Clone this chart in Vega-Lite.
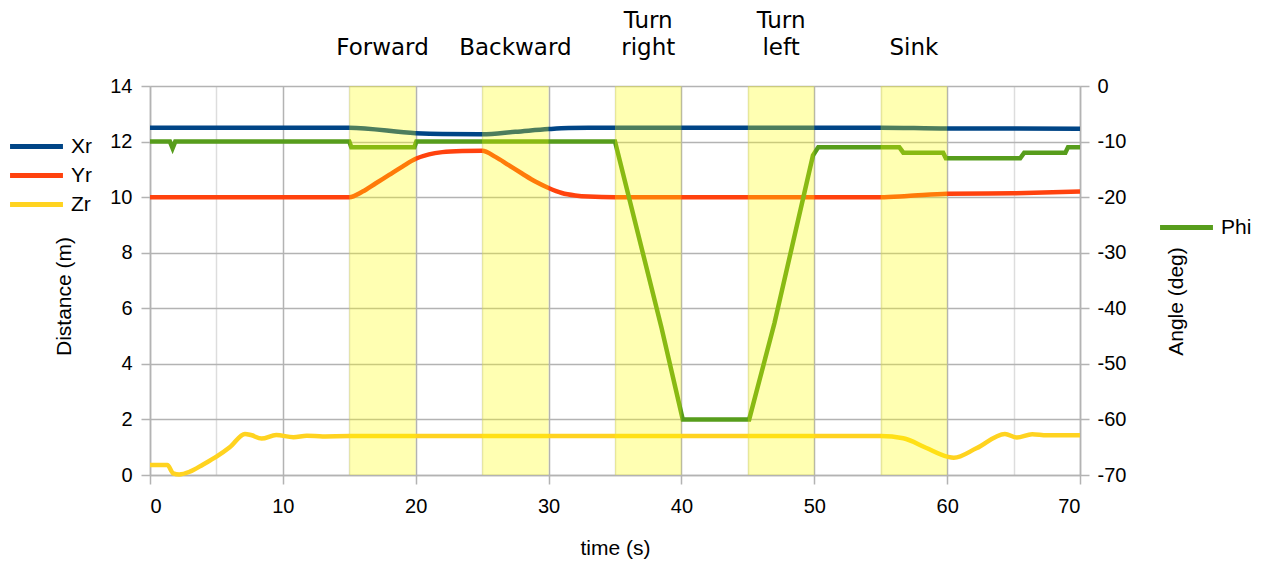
{
  "$schema": "https://vega.github.io/schema/vega-lite/v6.json",
  "width": 930,
  "height": 389,
  "autosize": {"type": "none"},
  "padding": {"left": 150, "top": 86, "right": 186, "bottom": 87},
  "background": "white",
  "config": {
    "view": {"stroke": null},
    "font": "Liberation Sans",
    "axis": {"labelFont": "Liberation Sans", "titleFont": "Liberation Sans", "labelColor": "black", "titleColor": "black", "titleFontWeight": "normal", "labelFontSize": 20, "titleFontSize": 21, "domainColor": "#b3b3b3", "tickColor": "#b3b3b3", "gridColor": "#b3b3b3", "domainWidth": 1.5, "tickWidth": 1.5, "gridWidth": 1.5, "tickSize": 9}
  },
  "datasets": {
    "dist": [
      {"t": 0, "series": "Xr", "v": 12.5}, {"t": 15, "series": "Xr", "v": 12.5}, {"t": 20, "series": "Xr", "v": 12.3}, {"t": 22, "series": "Xr", "v": 12.27}, {"t": 25, "series": "Xr", "v": 12.26}, {"t": 27.5, "series": "Xr", "v": 12.35}, {"t": 30, "series": "Xr", "v": 12.45}, {"t": 31.5, "series": "Xr", "v": 12.49}, {"t": 33, "series": "Xr", "v": 12.5}, {"t": 55, "series": "Xr", "v": 12.5}, {"t": 60, "series": "Xr", "v": 12.47}, {"t": 65, "series": "Xr", "v": 12.47}, {"t": 70, "series": "Xr", "v": 12.46},
      {"t": 0, "series": "Yr", "v": 10}, {"t": 15, "series": "Yr", "v": 10}, {"t": 16, "series": "Yr", "v": 10.2}, {"t": 17, "series": "Yr", "v": 10.5}, {"t": 18, "series": "Yr", "v": 10.8}, {"t": 19, "series": "Yr", "v": 11.1}, {"t": 20, "series": "Yr", "v": 11.38}, {"t": 21, "series": "Yr", "v": 11.54}, {"t": 22, "series": "Yr", "v": 11.62}, {"t": 23.5, "series": "Yr", "v": 11.66}, {"t": 25, "series": "Yr", "v": 11.67}, {"t": 26, "series": "Yr", "v": 11.45}, {"t": 27, "series": "Yr", "v": 11.15}, {"t": 28, "series": "Yr", "v": 10.85}, {"t": 29, "series": "Yr", "v": 10.56}, {"t": 30, "series": "Yr", "v": 10.33}, {"t": 31, "series": "Yr", "v": 10.15}, {"t": 32, "series": "Yr", "v": 10.06}, {"t": 33, "series": "Yr", "v": 10.02}, {"t": 35, "series": "Yr", "v": 10.0}, {"t": 55, "series": "Yr", "v": 10.0}, {"t": 57, "series": "Yr", "v": 10.04}, {"t": 60, "series": "Yr", "v": 10.12}, {"t": 65, "series": "Yr", "v": 10.14}, {"t": 70, "series": "Yr", "v": 10.2},
      {"t": 0, "series": "Zr", "v": 0.36}, {"t": 1.3, "series": "Zr", "v": 0.36}, {"t": 1.75, "series": "Zr", "v": 0.06}, {"t": 2.2, "series": "Zr", "v": 0.02}, {"t": 3, "series": "Zr", "v": 0.12}, {"t": 4, "series": "Zr", "v": 0.38}, {"t": 5, "series": "Zr", "v": 0.66}, {"t": 6, "series": "Zr", "v": 1.0}, {"t": 7.15, "series": "Zr", "v": 1.48}, {"t": 7.6, "series": "Zr", "v": 1.44}, {"t": 8.4, "series": "Zr", "v": 1.31}, {"t": 9.5, "series": "Zr", "v": 1.44}, {"t": 10.8, "series": "Zr", "v": 1.36}, {"t": 11.8, "series": "Zr", "v": 1.41}, {"t": 13, "series": "Zr", "v": 1.39}, {"t": 15, "series": "Zr", "v": 1.4}, {"t": 55, "series": "Zr", "v": 1.4}, {"t": 56.7, "series": "Zr", "v": 1.32}, {"t": 58.4, "series": "Zr", "v": 0.98}, {"t": 60, "series": "Zr", "v": 0.66}, {"t": 60.5, "series": "Zr", "v": 0.62}, {"t": 62.2, "series": "Zr", "v": 0.96}, {"t": 64.35, "series": "Zr", "v": 1.48}, {"t": 65.25, "series": "Zr", "v": 1.35}, {"t": 66.4, "series": "Zr", "v": 1.47}, {"t": 67.5, "series": "Zr", "v": 1.43}, {"t": 70, "series": "Zr", "v": 1.43}
    ],
    "phi": [
      {"t": 0, "series": "Phi", "v": -10}, {"t": 1.5, "series": "Phi", "v": -10}, {"t": 1.7, "series": "Phi", "v": -11.2}, {"t": 1.9, "series": "Phi", "v": -10}, {"t": 15, "series": "Phi", "v": -10}, {"t": 15.15, "series": "Phi", "v": -11}, {"t": 19.9, "series": "Phi", "v": -11}, {"t": 20.05, "series": "Phi", "v": -10}, {"t": 35, "series": "Phi", "v": -10}, {"t": 38.5, "series": "Phi", "v": -43.5}, {"t": 40.1, "series": "Phi", "v": -60}, {"t": 45.1, "series": "Phi", "v": -60}, {"t": 47.0, "series": "Phi", "v": -42.7}, {"t": 49.9, "series": "Phi", "v": -12.5}, {"t": 50.3, "series": "Phi", "v": -11}, {"t": 56.4, "series": "Phi", "v": -11}, {"t": 56.7, "series": "Phi", "v": -12}, {"t": 59.7, "series": "Phi", "v": -12}, {"t": 59.9, "series": "Phi", "v": -13}, {"t": 65.5, "series": "Phi", "v": -13}, {"t": 65.8, "series": "Phi", "v": -12}, {"t": 68.9, "series": "Phi", "v": -12}, {"t": 69.1, "series": "Phi", "v": -11}, {"t": 70, "series": "Phi", "v": -11}
    ],
    "bands": [
      {"start": 15, "end": 20, "mid": 17.5, "line1": "", "line2": "Forward"},
      {"start": 25, "end": 30, "mid": 27.5, "line1": "", "line2": "Backward"},
      {"start": 35, "end": 40, "mid": 37.5, "line1": "Turn", "line2": "right"},
      {"start": 45, "end": 50, "mid": 47.5, "line1": "Turn", "line2": "left"},
      {"start": 55, "end": 60, "mid": 57.5, "line1": "", "line2": "Sink"}
    ]
  },
  "layer": [
    {
      "data": {"name": "dist"},
      "mark": {"type": "line", "strokeWidth": 4.5, "interpolate": "monotone"},
      "encoding": {
        "x": {"field": "t", "type": "quantitative", "scale": {"domain": [0, 70], "nice": false},
          "axis": {"title": "time (s)", "values": [0,5,10,15,20,25,30,35,40,45,50,55,60,65,70], "labelExpr": "datum.value % 10 === 0 ? datum.label : ''", "tickOpacity": {"condition": {"test": "datum.value % 10 === 0", "value": 1}, "value": 0}, "gridColor": {"condition": {"test": "datum.value % 10 === 0", "value": "#b3b3b3"}, "value": "#dddddd"}, "labelPadding": 12, "titlePadding": 21}},
        "y": {"field": "v", "type": "quantitative", "scale": {"domain": [0, 14], "nice": false},
          "axis": {"title": "Distance (m)", "values": [0,2,4,6,8,10,12,14], "labelPadding": 9, "titlePadding": 35, "titleY": 210}},
        "color": {"field": "series", "type": "nominal", "scale": {"domain": ["Xr", "Yr", "Zr"], "range": ["#004586", "#ff420e", "#ffd320"]},
          "legend": {"orient": "none", "legendX": -124, "legendY": 50, "title": null, "symbolType": "M-5,0H5", "symbolSize": 112, "symbolStrokeWidth": 5, "labelOffset": 24, "labelFontSize": 21, "labelFont": "Liberation Sans", "labelColor": "black", "rowPadding": 7}}
      }
    },
    {
      "data": {"name": "phi"},
      "mark": {"type": "line", "strokeWidth": 4.5},
      "encoding": {
        "x": {"field": "t", "type": "quantitative"},
        "y": {"field": "v", "type": "quantitative", "scale": {"domain": [-70, 0], "nice": false},
          "axis": {"orient": "right", "title": "Angle (deg)", "values": [-70,-60,-50,-40,-30,-20,-10,0], "labelExpr": "'' + datum.value", "grid": false, "labelPadding": 8, "titlePadding": 40, "titleAngle": 270, "titleBaseline": "top", "titleY": 215}},
        "color": {"field": "series", "type": "nominal", "scale": {"domain": ["Phi"], "range": ["#579d1c"]},
          "legend": {"orient": "none", "legendX": 1026, "legendY": 131, "title": null, "symbolType": "M-5,0H5", "symbolSize": 112, "symbolStrokeWidth": 5, "labelOffset": 24, "labelFontSize": 21, "labelFont": "Liberation Sans", "labelColor": "black"}}
      }
    },
    {
      "data": {"name": "bands"},
      "mark": {"type": "rect", "color": "#ffff00", "opacity": 0.3},
      "encoding": {
        "x": {"field": "start", "type": "quantitative"},
        "x2": {"field": "end"}
      }
    },
    {
      "data": {"name": "bands"},
      "mark": {"type": "text", "font": "DejaVu Sans", "fontSize": 23, "baseline": "bottom", "align": "center", "dy": -26, "color": "black"},
      "encoding": {
        "x": {"field": "mid", "type": "quantitative"},
        "y": {"datum": 14, "type": "quantitative", "scale": {"domain": [0, 14], "nice": false}, "axis": null},
        "text": {"field": "line2"}
      }
    },
    {
      "data": {"name": "bands"},
      "mark": {"type": "text", "font": "DejaVu Sans", "fontSize": 23, "baseline": "bottom", "align": "center", "dy": -53, "color": "black"},
      "encoding": {
        "x": {"field": "mid", "type": "quantitative"},
        "y": {"datum": 14, "type": "quantitative", "scale": {"domain": [0, 14], "nice": false}, "axis": null},
        "text": {"field": "line1"}
      }
    }
  ],
  "resolve": {"scale": {"y": "independent", "color": "independent"}}
}
